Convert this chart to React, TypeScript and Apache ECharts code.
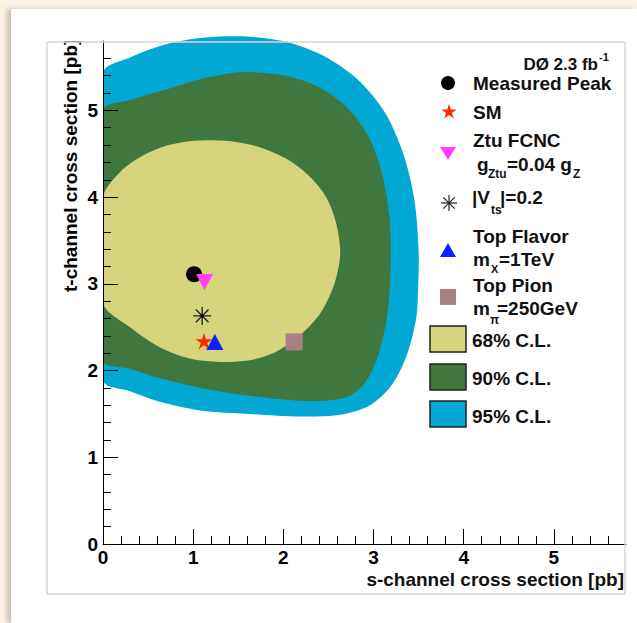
import React, { useEffect, useRef } from 'react';
import * as echarts from 'echarts';

// ---- axis ticks ----
const axisMax = 5.8;
const xMajorTicks = [0, 1, 2, 3, 4, 5];
const xMinorTicks = [0.2, 0.4, 0.6, 0.8, 1.2, 1.4, 1.6, 1.8, 2.2, 2.4, 2.6, 2.8, 3.2, 3.4, 3.6, 3.8, 4.2, 4.4, 4.6, 4.8, 5.2, 5.4, 5.6];
const yMajorTicks = [0, 1, 2, 3, 4, 5];
const yMinorTicks = [0.2, 0.4, 0.6, 0.8, 1.2, 1.4, 1.6, 1.8, 2.2, 2.4, 2.6, 2.8, 3.2, 3.4, 3.6, 3.8, 4.2, 4.4, 4.6, 4.8, 5.2, 5.4, 5.6];

// ---- contour boundaries [s-channel, t-channel] ----
const cl95 = [
  [0, 5.43], [0.3, 5.61], [0.69, 5.76], [1.13, 5.84], [1.63, 5.85], [2.07, 5.78], [2.46, 5.62],
  [2.83, 5.35], [3.13, 4.97], [3.33, 4.5], [3.45, 3.99], [3.5, 3.39], [3.49, 2.81], [3.47, 2.58],
  [3.37, 2.18], [3.2, 1.83], [2.96, 1.6], [2.63, 1.49], [2.18, 1.47], [1.63, 1.5], [1.08, 1.54],
  [0.63, 1.64], [0.3, 1.76], [0, 1.89],
];
const cl90 = [
  [0, 5.0], [0.3, 5.12], [0.63, 5.22], [1.08, 5.36], [1.52, 5.44], [1.96, 5.41], [2.35, 5.29],
  [2.68, 5.06], [2.94, 4.71], [3.1, 4.25], [3.18, 3.73], [3.19, 3.21], [3.16, 2.7], [3.07, 2.24],
  [2.92, 1.88], [2.72, 1.7], [2.41, 1.65], [2.07, 1.66], [1.63, 1.71], [1.08, 1.8], [0.63, 1.91],
  [0.3, 2.02], [0, 2.12],
];
const cl68 = [
  [0, 4.0], [0.19, 4.29], [0.41, 4.46], [0.69, 4.59], [1.02, 4.65], [1.35, 4.65], [1.69, 4.59],
  [2.02, 4.45], [2.29, 4.24], [2.48, 3.99], [2.59, 3.68], [2.63, 3.33], [2.56, 2.98], [2.41, 2.66],
  [2.18, 2.4], [1.91, 2.21], [1.63, 2.12], [1.3, 2.1], [0.96, 2.14], [0.63, 2.27], [0.3, 2.5], [0, 2.78],
];

// ---- model points ----
const measuredPeak = [[1.01, 3.11]];
const smPoint = [[1.12, 2.34]];
const ztuFcnc = [[1.125, 3.02]];
const vts02 = [[1.1, 2.63]];
const topFlavor = [[1.24, 2.33]];
const topPion = [[2.12, 2.33]];

const C95 = '#00a8d3';
const C90 = '#3f773f';
const C68 = '#d5d37b';
const FONT = '"Liberation Sans", Arial, Helvetica, sans-serif';

const STAR = 'path://M0,-10L2.25,-3.09L9.51,-3.09L3.63,1.18L5.88,8.09L0,3.82L-5.88,8.09L-3.63,1.18L-9.51,-3.09L-2.25,-3.09Z';
const ASTER = 'path://M0,-10L0,10M-10,0L10,0M-7.07,-7.07L7.07,7.07M-7.07,7.07L7.07,-7.07';

function region(pts: number[][], color: string) {
  return {
    type: 'custom',
    xAxisIndex: 0,
    yAxisIndex: 0,
    clip: false,
    silent: true,
    z: 2,
    data: [[0, 0]],
    renderItem: (_p: any, api: any) => {
      const points = pts.map((p) => api.coord(p));
      const x0 = api.coord([0, 0])[0];
      return {
        type: 'polygon',
        shape: { points, smooth: 0.3, smoothConstraint: [[x0, -2000], [4000, 4000]] },
        style: { fill: color },
      };
    },
  };
}

function txt(text: string, x: number, y: number, size = 19, align = 'left', z = 20) {
  const lh = size >= 15 ? Math.round(size * 0.72) : Math.round(size * 0.8);
  return {
    type: 'text',
    x,
    y,
    z,
    style: {
      text,
      fontSize: size,
      fontWeight: 'bold',
      fontFamily: FONT,
      fill: '#111',
      lineHeight: lh,
      align,
      verticalAlign: 'middle',
      textAlign: align,
      textVerticalAlign: 'middle',
    },
  };
}

function starPoints(cx: number, cy: number, r: number) {
  const pts: number[][] = [];
  for (let i = 0; i < 10; i++) {
    const a = -Math.PI / 2 + (i * Math.PI) / 5;
    const rr = i % 2 === 0 ? r : r * 0.382;
    pts.push([cx + rr * Math.cos(a), cy + rr * Math.sin(a)]);
  }
  return pts;
}

function build() {
  const majorAxisCommon = {
    min: 0,
    max: axisMax,
    interval: 1,
    z: 10,
    axisLine: { show: true, lineStyle: { color: '#000', width: 1 } },
    splitLine: { show: false },
  };
  const minorAxisCommon = {
    min: 0,
    max: axisMax,
    interval: 0.2,
    z: 10,
    axisLine: { show: false },
    axisLabel: { show: false },
    splitLine: { show: false },
  };
  const labelStyle = { color: '#000', fontSize: 19, fontWeight: 'bold', fontFamily: FONT };

  const graphic: any[] = [
    // y-axis title
    {
      type: 'text',
      x: 70,
      y: 292,
      rotation: Math.PI / 2,
      z: 20,
      style: {
        text: 't-channel cross section [pb]',
        fontSize: 19,
        fontWeight: 'bold',
        fontFamily: FONT,
        fill: '#000',
        align: 'left',
        verticalAlign: 'middle',
        textAlign: 'left',
        textVerticalAlign: 'middle',
      },
    },
    { type: 'rect', z: 21, shape: { x: 52, y: 11, width: 40, height: 30 }, style: { fill: '#fff' } },
    // frame
    {
      type: 'rect',
      z: 22,
      shape: { x: 47, y: 42, width: 578, height: 552 },
      style: { fill: 'none', stroke: '#d6d6d6', lineWidth: 1.5 },
    },
    // x-axis title
    txt('s-channel cross section [pb]', 624, 579, 19, 'right'),
    // DØ label
    txt('DØ 2.3 fb', 598, 64, 17, 'right'),
    txt('-1', 599, 57, 11, 'left'),
    // legend entries
    { type: 'circle', z: 20, shape: { cx: 448, cy: 83, r: 7 }, style: { fill: '#000' } },
    txt('Measured Peak', 473, 83),
    { type: 'polygon', z: 20, shape: { points: starPoints(449, 112, 8) }, style: { fill: '#ff2a00' } },
    txt('SM', 473, 112),
    { type: 'polygon', z: 20, shape: { points: [[440, 147], [456, 147], [448, 160]] }, style: { fill: '#ff40ff' } },
    txt('Ztu FCNC', 473, 140),
    txt('g', 477, 164),
    txt('Ztu', 488, 174, 12),
    txt('=0.04 g', 507, 164),
    txt('Z', 573, 174, 12),
    {
      type: 'group',
      z: 20,
      children: [
        { type: 'line', z: 20, shape: { x1: 449, y1: 195, x2: 449, y2: 211 }, style: { stroke: '#222', lineWidth: 1.2 } },
        { type: 'line', z: 20, shape: { x1: 441, y1: 203, x2: 457, y2: 203 }, style: { stroke: '#222', lineWidth: 1.2 } },
        { type: 'line', z: 20, shape: { x1: 443.3, y1: 197.3, x2: 454.7, y2: 208.7 }, style: { stroke: '#222', lineWidth: 1.2 } },
        { type: 'line', z: 20, shape: { x1: 443.3, y1: 208.7, x2: 454.7, y2: 197.3 }, style: { stroke: '#222', lineWidth: 1.2 } },
      ],
    },
    txt('|V', 472, 197),
    txt('ts', 491, 210, 12),
    txt('|=0.2', 500, 197),
    { type: 'polygon', z: 20, shape: { points: [[440, 257], [456, 257], [448, 243]] }, style: { fill: '#0a22ff' } },
    txt('Top Flavor', 473, 236),
    txt('m', 473, 259),
    txt('X', 491, 269, 11),
    txt('=1TeV', 499, 259),
    { type: 'rect', z: 20, shape: { x: 440, y: 289, width: 16, height: 16 }, style: { fill: '#a97f86' } },
    txt('Top Pion', 473, 285),
    txt('m', 473, 308),
    txt('π', 490, 320, 12),
    txt('=250GeV', 497, 308),
    { type: 'rect', z: 20, shape: { x: 430, y: 326, width: 36, height: 26 }, style: { fill: C68, stroke: '#222', lineWidth: 1.5 } },
    txt('68% C.L.', 472, 340),
    { type: 'rect', z: 20, shape: { x: 430, y: 364, width: 36, height: 26 }, style: { fill: C90, stroke: '#222', lineWidth: 1.5 } },
    txt('90% C.L.', 472, 378),
    { type: 'rect', z: 20, shape: { x: 430, y: 401, width: 36, height: 26 }, style: { fill: C95, stroke: '#222', lineWidth: 1.5 } },
    txt('95% C.L.', 472, 416),
  ];

  return {
    animation: false,
    backgroundColor: 'transparent',
    grid: { left: 103, right: 11, top: 41, bottom: 79, containLabel: false },
    xAxis: [
      {
        type: 'value',
        position: 'bottom',
        ...majorAxisCommon,
        axisTick: { show: true, inside: true, length: 15, customValues: xMajorTicks, lineStyle: { color: '#000', width: 1 } },
        axisLabel: { show: true, margin: 4, customValues: xMajorTicks, ...labelStyle },
      },
      {
        type: 'value',
        position: 'bottom',
        ...minorAxisCommon,
        axisTick: { show: true, inside: true, length: 8, customValues: xMinorTicks, lineStyle: { color: '#000', width: 1 } },
      },
    ],
    yAxis: [
      {
        type: 'value',
        position: 'left',
        ...majorAxisCommon,
        axisTick: { show: true, inside: true, length: 15, customValues: yMajorTicks, lineStyle: { color: '#000', width: 1 } },
        axisLabel: { show: true, margin: 5, customValues: yMajorTicks, ...labelStyle },
      },
      {
        type: 'value',
        position: 'left',
        ...minorAxisCommon,
        axisTick: { show: true, inside: true, length: 8, customValues: yMinorTicks, lineStyle: { color: '#000', width: 1 } },
      },
    ],
    series: [
      region(cl95, C95),
      region(cl90, C90),
      region(cl68, C68),
      { type: 'scatter', z: 5, silent: true, data: measuredPeak, symbol: 'circle', symbolSize: 16, itemStyle: { color: '#000', opacity: 1 } },
      { type: 'scatter', z: 5, silent: true, data: ztuFcnc, symbol: 'triangle', symbolRotate: 180, symbolSize: [17, 16], itemStyle: { color: '#ff40ff', opacity: 1 } },
      { type: 'scatter', z: 5, silent: true, data: vts02, symbol: ASTER, symbolKeepAspect: true, symbolSize: 18, itemStyle: { color: 'none', borderColor: '#222', borderWidth: 1.3, opacity: 1 } },
      { type: 'scatter', z: 5, silent: true, data: vts02, symbol: 'circle', symbolSize: 3, itemStyle: { color: '#000', opacity: 1 } },
      { type: 'scatter', z: 5, silent: true, data: smPoint, symbol: STAR, symbolKeepAspect: true, symbolSize: 17, itemStyle: { color: '#ff2a00', opacity: 1 } },
      { type: 'scatter', z: 5, silent: true, data: topFlavor, symbol: 'triangle', symbolSize: [17, 16], itemStyle: { color: '#0a22ff', opacity: 1 } },
      { type: 'scatter', z: 5, silent: true, data: topPion, symbol: 'rect', symbolSize: 17, itemStyle: { color: '#a97f86', opacity: 1 } },
    ],
    graphic,
  };
}

export default function App() {
  const ref = useRef<HTMLDivElement>(null);
  useEffect(() => {
    const chart = echarts.init(ref.current as HTMLDivElement, null, { renderer: 'svg' });
    chart.setOption(build() as any);
    return () => chart.dispose();
  }, []);
  return (
    <div style={{ position: 'fixed', left: 0, top: 0, width: 637, height: 623, background: '#fcf2e4', overflow: 'hidden' }}>
      <div
        style={{
          position: 'absolute',
          left: 11,
          top: 9,
          right: 0,
          bottom: 0,
          background: '#ffffff',
          boxShadow: '-4px 0 5px rgba(110,100,90,0.35)',
        }}
      />
      <div ref={ref} style={{ position: 'absolute', left: 0, top: 0, width: 637, height: 623 }} />
    </div>
  );
}
